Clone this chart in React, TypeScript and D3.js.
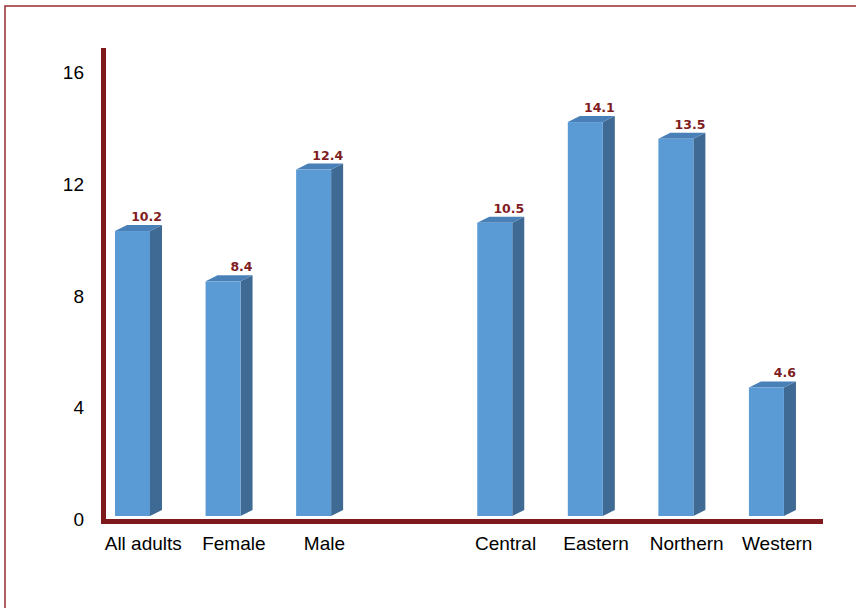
import React from "react";
import * as d3 from "d3";

const categories = ["All adults", "Female", "Male", "", "Central", "Eastern", "Northern", "Western"];
const values: (number | null)[] = [10.2, 8.4, 12.4, null, 10.5, 14.1, 13.5, 4.6];
const yTicks = [0, 4, 8, 12, 16];

const W = 856;
const H = 608;

export default function App() {
  const keys = categories.map((c, i) => i + "|" + c);
  const x = d3.scaleBand<string>().domain(keys).range([101, 825.5]).padding(0);
  const y = d3.scaleLinear().domain([0, 16]).range([516, 69]);
  const frontW = 35;
  const off = 14;
  const dx = 12;
  const dy = 6;
  const axisColor = "#7e1a1c";

  return (
    <svg width={W} height={H} style={{ position: "absolute", left: 0, top: 0 }}>
      <rect x={0} y={0} width={W} height={H} fill="#fff" />
      <rect x={5} y={6} width={W + 10} height={H + 10} fill="none" stroke="#9b3a3e" strokeWidth={1.6} />
      {keys.map((k, i) => {
        const v = values[i];
        if (v == null) return null;
        const x0 = (x(k) as number) + off;
        const x1 = x0 + frontW;
        const yt = y(v);
        const yb = y(0);
        return (
          <g key={k}>
            <polygon
              points={`${x1},${yt} ${x1 + dx},${yt - dy} ${x1 + dx},${yb - dy} ${x1},${yb}`}
              fill="#3f6a93"
            />
            <polygon
              points={`${x0},${yt} ${x0 + dx},${yt - dy} ${x1 + dx},${yt - dy} ${x1},${yt}`}
              fill="#4a80b8"
            />
            <rect x={x0} y={yt} width={frontW} height={yb - yt} fill="#5b9bd5" />
            <text
              x={x1 + dx}
              y={yt - dy - 4}
              textAnchor="end"
              fontFamily="DejaVu Sans, sans-serif"
              fontWeight="bold"
              fontSize={12.5}
              fill="#7f1d1f"
            >
              {v.toFixed(1)}
            </text>
          </g>
        );
      })}
      <rect x={101} y={48} width={5} height={476} fill={axisColor} />
      <rect x={101} y={519} width={722} height={5} fill={axisColor} />
      {yTicks.map((t) => (
        <text
          key={t}
          x={84}
          y={y(t) + 5}
          textAnchor="end"
          dominantBaseline="middle"
          fontFamily="Liberation Sans, Arial, sans-serif"
          fontSize={19}
          fill="#000"
        >
          {t}
        </text>
      ))}
      {keys.map((k, i) =>
        categories[i] ? (
          <text
            key={"l" + k}
            x={(x(k) as number) + x.bandwidth() / 2 - 3}
            y={550}
            textAnchor="middle"
            fontFamily="Liberation Sans, Arial, sans-serif"
            fontSize={19}
            fill="#000"
          >
            {categories[i]}
          </text>
        ) : null
      )}
    </svg>
  );
}
